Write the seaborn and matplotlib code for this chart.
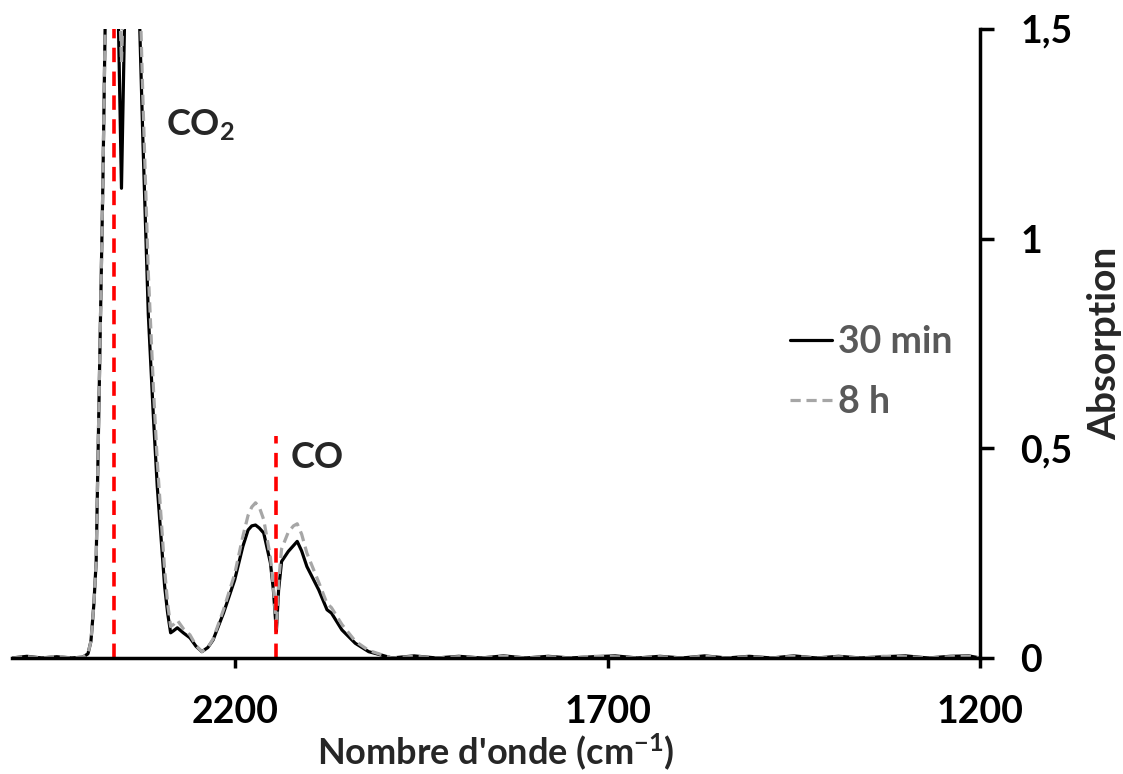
import numpy as np
import pandas as pd
import seaborn as sns
import matplotlib.pyplot as plt
from matplotlib.ticker import FixedLocator, FixedFormatter


# wavenumbers (cm-1), descending
wavenumber = [2500, 2480, 2460, 2440, 2420, 2405, 2398, 2394, 2390, 2387,
              2384, 2382, 2378, 2375, 2370, 2362, 2358, 2353, 2348, 2340,
              2332, 2330, 2324, 2317, 2310, 2305, 2300, 2295, 2291, 2287,
              2283, 2278, 2270, 2261, 2253, 2245, 2237, 2230, 2216, 2201,
              2190, 2183, 2178, 2173, 2168, 2162, 2153, 2149, 2145, 2142,
              2138, 2129, 2122, 2117, 2111, 2104, 2096, 2088, 2077, 2071,
              2057, 2039, 2021, 2004, 1990, 1960, 1930, 1900, 1870, 1840,
              1810, 1780, 1750, 1720, 1690, 1660, 1630, 1600, 1570, 1540,
              1510, 1480, 1450, 1420, 1390, 1360, 1330, 1300, 1270, 1240,
              1215, 1200]

abs_30min = [0.0, 0.004, 0.0, 0.003, 0.0, 0.002, 0.01, 0.04, 0.13, 0.23,
             0.53, 0.73, 1.13, 1.50, 1.75, 1.9, 1.6, 1.12, 1.6, 1.9,
             1.7, 1.60, 1.22, 0.82, 0.57, 0.41, 0.29, 0.17, 0.107, 0.06,
             0.065, 0.072, 0.06, 0.048, 0.028, 0.015, 0.025, 0.043, 0.107, 0.186,
             0.266, 0.305, 0.315, 0.317, 0.31, 0.298, 0.227, 0.162, 0.063, 0.162,
             0.23, 0.254, 0.268, 0.278, 0.255, 0.218, 0.19, 0.162, 0.115, 0.107,
             0.067, 0.035, 0.015, 0.007, 0.0, 0.005, 0.0, 0.004, 0.0, 0.005,
             0.0, 0.004, 0.0, 0.003, 0.005, 0.0, 0.004, 0.0, 0.005, 0.0,
             0.004, 0.0, 0.005, 0.0, 0.004, 0.0, 0.003, 0.005, 0.0, 0.004,
             0.005, 0.0]

abs_8h = [0.0, 0.003, 0.0, 0.004, 0.0, 0.002, 0.01, 0.04, 0.13, 0.23,
          0.53, 0.73, 1.13, 1.50, 1.8, 1.95, 1.7, 1.42, 1.7, 1.95,
          1.8, 1.70, 1.32, 0.92, 0.64, 0.47, 0.34, 0.21, 0.13, 0.075,
          0.08, 0.09, 0.07, 0.055, 0.03, 0.015, 0.025, 0.045, 0.115, 0.20,
          0.29, 0.34, 0.36, 0.37, 0.36, 0.33, 0.24, 0.17, 0.07, 0.18,
          0.26, 0.30, 0.315, 0.32, 0.295, 0.25, 0.215, 0.18, 0.13, 0.12,
          0.08, 0.04, 0.018, 0.008, 0.0, 0.004, 0.0, 0.003, 0.0, 0.004,
          0.0, 0.003, 0.0, 0.004, 0.003, 0.0, 0.003, 0.0, 0.004, 0.0,
          0.003, 0.0, 0.004, 0.0, 0.003, 0.0, 0.004, 0.003, 0.0, 0.003,
          0.004, 0.0]

series_labels = ["30 min", "8 h"]
co2_line = 2363
co_line = 2145
co_line_top = 0.53

df = pd.DataFrame({
    "wavenumber": wavenumber * 2,
    "absorption": abs_30min + abs_8h,
    "serie": [series_labels[0]] * len(wavenumber) + [series_labels[1]] * len(wavenumber),
})

sns.set_style("white")
plt.rcParams['font.family'] = ['Lato', 'DejaVu Sans']
plt.rcParams['font.weight'] = 'bold'
plt.rcParams['mathtext.fontset'] = 'custom'
plt.rcParams['mathtext.rm'] = 'Lato:bold'
plt.rcParams['mathtext.default'] = 'rm'

fig = plt.figure(figsize=(11.23, 7.74), dpi=100)
ax = fig.add_axes([0.0107, 0.1499, 0.8620, 0.8128])

sns.lineplot(data=df, x="wavenumber", y="absorption", hue="serie", style="serie",
             hue_order=series_labels, style_order=series_labels,
             palette={"30 min": "black", "8 h": "#a6a6a6"},
             dashes={"30 min": "", "8 h": (3.2, 1.8)},
             linewidth=2.3, ax=ax, sort=False)

# marker lines for the CO2 and CO bands
ax.vlines(co2_line, 0, 1.5, colors="red", linestyles=(0, (4.0, 2.6)), linewidth=2.6)
ax.vlines(co_line, 0, co_line_top, colors="red", linestyles=(0, (4.0, 2.6)), linewidth=2.6)

ax.text(2293, 1.27, "CO$_2$", fontsize=26, fontweight="bold", va="center", ha="left")
ax.text(2126, 0.477, "CO", fontsize=26, fontweight="bold", va="center", ha="left")

ax.set_xlim(2500, 1200)
ax.set_ylim(0, 1.5)
ax.xaxis.set_major_locator(FixedLocator([2200, 1700, 1200]))
ax.yaxis.set_major_locator(FixedLocator([0, 0.5, 1, 1.5]))
ax.yaxis.set_major_formatter(FixedFormatter(["0", "0,5", "1", "1,5"]))
ax.yaxis.tick_right()
ax.yaxis.set_label_position("right")

for s in ["left", "top"]:
    ax.spines[s].set_visible(False)
for s in ["right", "bottom"]:
    ax.spines[s].set_visible(True)
    ax.spines[s].set_color("black")
    ax.spines[s].set_linewidth(2.5)

ax.tick_params(axis="x", direction="out", length=7, width=2.5, pad=20, labelsize=27,
               bottom=True, colors="black")
ax.tick_params(axis="y", direction="out", length=10, width=2.5, pad=19, labelsize=27,
               right=True, left=False, colors="black")

ax.set_xlabel("Nombre d'onde (cm$^{-1}$)", fontsize=26, fontweight="bold")
ax.set_ylabel("Absorption", fontsize=28, fontweight="bold")
ax.xaxis.set_label_coords(0.5, -0.117)
ax.yaxis.set_label_coords(1.1105, 0.5)

handles, labels = ax.get_legend_handles_labels()
ax.legend(handles, labels, loc="center left", bbox_to_anchor=(0.8037, 0.454),
          frameon=False, fontsize=27, handlelength=1.12, handletextpad=0.16,
          labelspacing=0.70, borderpad=0, borderaxespad=0, labelcolor="#595959")

fig.savefig("out.png", dpi=100)
